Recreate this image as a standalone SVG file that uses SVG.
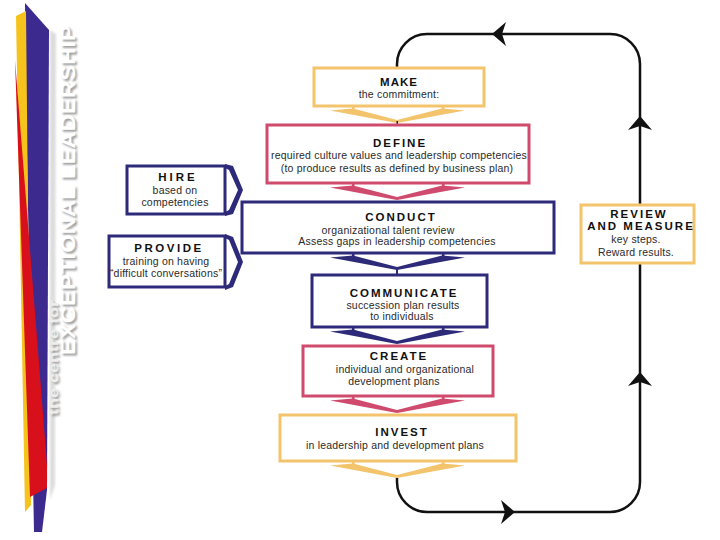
<svg xmlns="http://www.w3.org/2000/svg" width="720" height="540" viewBox="0 0 720 540">
<defs>
<style>
.box{fill:#fff;stroke-width:3}
.y{stroke:#F3C46C}
.r{stroke:#CF4A6C}
.n{stroke:#2E2A7A}
.fy{fill:#F3C46C}
.fr{fill:#CF4A6C}
.fn{fill:#2E2A7A}
.h{font-family:"Liberation Sans",Arial,sans-serif;font-weight:bold;font-size:11.5px;letter-spacing:2px;fill:#111;text-anchor:middle}
.t{font-family:"Liberation Sans",Arial,sans-serif;font-size:10.5px;letter-spacing:0.2px;fill:#2a2a2a;text-anchor:middle}
.loop{fill:none;stroke:#111;stroke-width:2.5}
</style>
<filter id="sh" x="-20%" y="-20%" width="140%" height="140%"><feGaussianBlur stdDeviation="1.3"/></filter>
</defs>
<rect width="720" height="540" fill="#fff"/>

<g id="branding">
<polygon points="50,30 56,34 55,485 50,500" fill="#bbb" opacity="0.5" filter="url(#sh)"/>
<polygon points="25,3 49,30 47,490 42,532 34,532 26,100" fill="#3D2A8E"/>
<polygon points="16,16 26,11 31,505 25,512" fill="#F6C21C"/>
<polygon points="15,60 47,465 47,488 30,497" fill="#D8101C"/>
<g font-family="Liberation Sans,Arial,sans-serif" font-weight="bold">
<text transform="translate(77,357) rotate(-90)" font-size="21" textLength="330" lengthAdjust="spacingAndGlyphs" fill="#999" filter="url(#sh)">EXCEPTIONAL LEADERSHIP</text>
<text transform="translate(75,355) rotate(-90)" font-size="21" textLength="330" lengthAdjust="spacingAndGlyphs" fill="#fff">EXCEPTIONAL LEADERSHIP</text>
<text transform="translate(60,417) rotate(-90)" font-size="13" textLength="115" lengthAdjust="spacingAndGlyphs" fill="#999" filter="url(#sh)">the centre for</text>
<text transform="translate(58,415) rotate(-90)" font-size="13" textLength="115" lengthAdjust="spacingAndGlyphs" fill="#eee">the centre for</text>
</g>
</g>

<g id="connectors">
<path class="loop" d="M397,478 V482 A30,30 0 0 0 427,512 H610 A30,30 0 0 0 640,482 V263 M640,205 V64 A30,30 0 0 0 610,34 H427 A30,30 0 0 0 397,64 V68"/>
<polygon points="492,34 506,22 502,34 506,46" fill="#111"/>
<polygon points="515,512 501,500 505,512 501,524" fill="#111"/>
<polygon points="640,116 628,130 640,126 652,130" fill="#111"/>
<polygon points="640,372 628,386 640,382 652,386" fill="#111"/>
<!-- chevron block arrows between boxes -->
<g class="fy"><path d="M352,106h2.5v4h-2.5z M442,106h2.5v4h-2.5z"/><polygon points="330,110.5 353,108.5 397,120 442,108.5 465,110.5 397,123"/><rect x="396.5" y="121" width="1.5" height="4" fill="#222"/></g>
<g class="fr"><path d="M352,183h2.5v4h-2.5z M442,183h2.5v4h-2.5z"/><polygon points="330,187.5 353,185.5 397,197 442,185.5 465,187.5 397,200"/></g>
<g class="fn"><path d="M352,253h2.5v4h-2.5z M442,253h2.5v4h-2.5z"/><polygon points="330,257.5 353,255.5 397,267 442,255.5 465,257.5 397,270"/><rect x="396" y="268" width="2" height="7"/></g>
<g class="fn"><path d="M352,327h2.5v4h-2.5z M442,327h2.5v4h-2.5z"/><polygon points="330,331.5 353,329.5 397,341 442,329.5 465,331.5 397,344"/></g>
<g class="fr"><path d="M352,396h2.5v4h-2.5z M442,396h2.5v4h-2.5z"/><polygon points="330,400.5 353,398.5 397,410 442,398.5 465,400.5 397,413"/></g>
<g class="fy"><path d="M352,461h2.5v4h-2.5z M442,461h2.5v4h-2.5z"/><polygon points="330,465.5 353,463.5 397,475 442,463.5 465,465.5 397,478"/></g>
<!-- side chevrons -->
<polygon class="fn" points="225,164 233,166 243,190 233,214 225,216 225,212 229,210 238,190 229,170 225,168"/>
<polygon class="fn" points="225,234 233,237 243,262 233,287 225,290 225,286 229,284 238,262 229,240 225,238"/>
</g>

<g id="make">
<rect class="box y" x="314" y="68" width="170" height="38"/>
<text class="h" x="399" y="86" style="letter-spacing:1px">MAKE</text>
<text class="t" x="399" y="98">the commitment:</text>
</g>

<g id="define">
<rect class="box r" x="267" y="125" width="262" height="58"/>
<text class="h" x="400" y="147">DEFINE</text>
<text class="t" x="399" y="159">required culture values and leadership competencies</text>
<text class="t" x="397" y="172">(to produce results as defined by business plan)</text>
</g>

<g id="hire">
<rect class="box n" x="127" y="166" width="98" height="48"/>
<text class="h" x="178" y="181" style="letter-spacing:3px">HIRE</text>
<text class="t" x="175" y="194">based on</text>
<text class="t" x="175" y="206">competencies</text>
</g>

<g id="provide">
<rect class="box n" x="109" y="236" width="116" height="51"/>
<text class="h" x="169" y="252" style="letter-spacing:2.5px">PROVIDE</text>
<text class="t" x="166" y="265">training on having</text>
<text class="t" x="166" y="277">“difficult conversations”</text>
</g>

<g id="conduct">
<rect class="box n" x="242" y="202" width="312" height="51"/>
<text class="h" x="401" y="221">CONDUCT</text>
<text class="t" x="388" y="234">organizational talent review</text>
<text class="t" x="397" y="245">Assess gaps in leadership competencies</text>
</g>

<g id="communicate">
<rect class="box n" x="312" y="275" width="175" height="52"/>
<text class="h" x="404" y="297">COMMUNICATE</text>
<text class="t" x="403" y="309">succession plan results</text>
<text class="t" x="402" y="320">to individuals</text>
</g>

<g id="create">
<rect class="box r" x="303" y="346" width="190" height="50"/>
<text class="h" x="399" y="360">CREATE</text>
<text class="t" x="405" y="373">individual and organizational</text>
<text class="t" x="394" y="385">development plans</text>
</g>

<g id="invest">
<rect class="box y" x="280" y="415" width="236" height="46"/>
<text class="h" x="402" y="436">INVEST</text>
<text class="t" x="395" y="449">in leadership and development plans</text>
</g>

<g id="review">
<rect class="box y" x="581" y="205" width="113" height="58"/>
<text class="h" x="639" y="218">REVIEW</text>
<text class="h" x="641" y="230">AND MEASURE</text>
<text class="t" x="636" y="243">key steps.</text>
<text class="t" x="636" y="256">Reward results.</text>
</g>
</svg>
